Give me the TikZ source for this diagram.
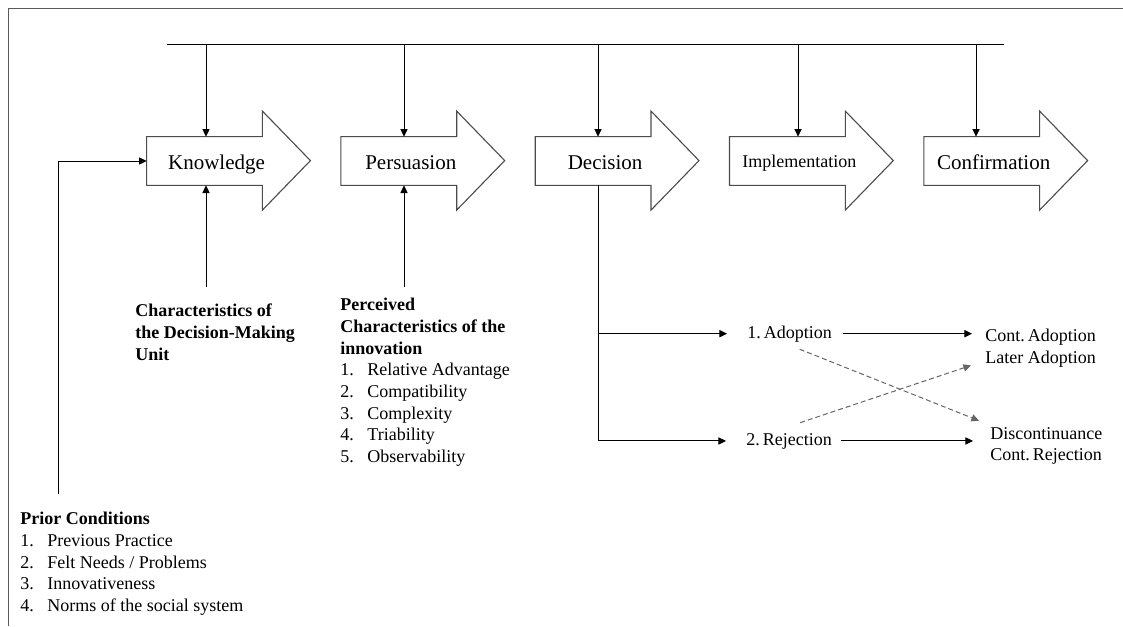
\documentclass[tikz,border=0pt]{standalone}
\usepackage{fontspec}
\setmainfont{Liberation Serif}
\usepackage{tikz}
\usetikzlibrary{positioning, arrows.meta, calc}

\newcommand{\numitem}[2]{\makebox[13.5pt][l]{#1.}#2}
\newcommand{\stagetext}[1]{\makebox[0pt]{\hspace{12pt}#1}}

\begin{document}
\begin{tikzpicture}[
    x=0.5pt, y=-0.5pt,
    node distance=39.25pt,
    stage/.style={
      minimum width=57.5pt,
      minimum height=24pt,
      inner sep=0pt,
      text height=8pt,
      text depth=0pt,
      font=\fontsize{10.5}{12}\selectfont
    },
    stageline/.style={
      draw=black!70,
      line width=0.55pt
    },
    arrow/.style={
      -{Triangle[length=3.8pt,width=3.6pt]},
      line width=0.5pt
    },
    dasharrow/.style={
      arrow,
      draw=black!60,
      dash pattern=on 2.5pt off 1.5pt
    },
    txt/.style={
      inner sep=0pt,
      align=left,
      font=\fontsize{9}{10.85}\selectfont
    },
    frame/.style={
      draw=black!65,
      line width=0.8pt
    }
  ]

    \path[use as bounding box, fill=white] (0,0) rectangle (1123,626);
    \draw[frame] (1123,8.5) -- (8.5,8.5) -- (8.5,626);

    \node[stage] (know) at (204.5,161) {\stagetext{Knowledge}};
    \node[stage, right=of know] (pers) {\stagetext{Persuasion}};
    \node[stage, right=of pers] (deci) {\stagetext{Decision}};
    \node[stage, right=of deci, font=\fontsize{9}{11}\selectfont, text height=6pt] (impl) {\stagetext{Implementation}};
    \node[stage, right=of impl] (conf) {\stagetext{Confirmation}};

    \foreach \s in {know,pers,deci,impl,conf}
      \draw[stageline] (\s.south west) -- (\s.north west) -- (\s.north east)
        -- ++(0,12.75pt) -- ++(24pt,-24.75pt) -- ++(-24pt,-24.75pt)
        -- (\s.south east) -- cycle;

    \coordinate (barL) at (167,45);
    \coordinate (barR) at (1004,45);
    \draw[line width=0.5pt] (barL) -- (barR);
    \foreach \x/\s in {206/know,404/pers,598/deci,798/impl,976/conf} {
      \coordinate (top-\s) at (\x,45);
      \draw[arrow] (top-\s) -- (top-\s |- \s.north);
    }

    \node[txt, anchor=north west, font=\fontsize{9}{10.85}\selectfont\bfseries] (unit) at (135,303.8) {
      Characteristics of\\
      the Decision-Making\\
      Unit
    };

    \node[txt, anchor=north west] (innov) at (340,297.8) {
      \textbf{Perceived}\\
      \textbf{Characteristics of the}\\
      \textbf{innovation}\\
      \numitem{1}{Relative Advantage}\\
      \numitem{2}{Compatibility}\\
      \numitem{3}{Complexity}\\
      \numitem{4}{Triability}\\
      \numitem{5}{Observability}
    };

    \node[txt, anchor=north west] (prior) at (20,511.8) {
      \textbf{Prior Conditions}\\
      \numitem{1}{Previous Practice}\\
      \numitem{2}{Felt Needs / Problems}\\
      \numitem{3}{Innovativeness}\\
      \numitem{4}{Norms of the social system}
    };

    \coordinate (kfoot) at (206,287);
    \coordinate (pfoot) at (404,287);
    \coordinate (priorfoot) at (58,494);
    \draw[arrow] (kfoot) -- (kfoot |- know.south);
    \draw[arrow] (pfoot) -- (pfoot |- pers.south);
    \draw[arrow] (priorfoot) |- (know.west);

    \node[txt, anchor=base west] (adopt) at (747,338) {1.\,Adoption};
    \node[txt, anchor=base west] (rej) at (746,445) {2.\,Rejection};
    \node[txt, anchor=north west] (keep) at (985,328.7) {Cont.\,Adoption\\Later Adoption};
    \node[txt, anchor=north west] (disc) at (990,426.7) {Discontinuance\\Cont.\,Rejection};

    \draw[line width=0.5pt] (top-deci |- deci.south) -- (top-deci |- rej);
    \draw[arrow, shorten >=10pt] (top-deci |- adopt) -- (adopt.west);
    \draw[arrow, shorten >=10pt] (top-deci |- rej) -- (rej.west);
    \draw[arrow, shorten <=5.5pt, shorten >=6.5pt] (adopt.east) -- (adopt.east -| keep.west);
    \draw[arrow, shorten <=4.5pt, shorten >=8.5pt] (rej.east) -- (rej.east -| disc.west);

    \draw[dasharrow] ([xshift=5pt,yshift=-3.5pt]adopt.south) -- ([xshift=-5.5pt,yshift=3pt]disc.north west);
    \draw[dasharrow] ([xshift=5.5pt,yshift=5pt]rej.north) -- ([xshift=-7pt,yshift=-8.65pt]keep.west);

\end{tikzpicture}
\end{document}
